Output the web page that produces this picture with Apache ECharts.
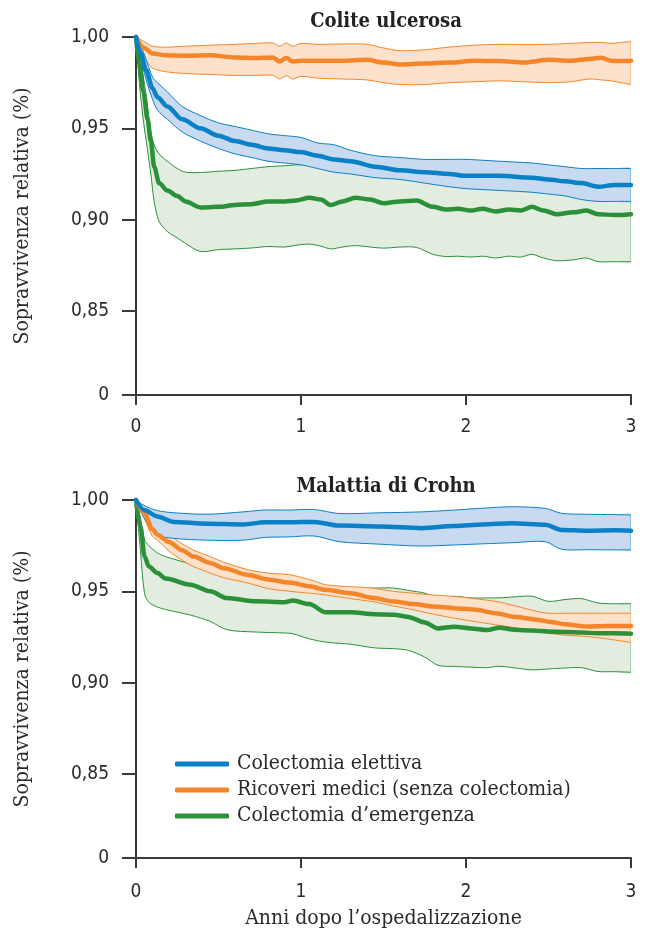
<!DOCTYPE html>
<html>
<head>
<meta charset="utf-8">
<script src="https://cdn.jsdelivr.net/npm/echarts@6/dist/echarts.min.js"></script>
<style>
html,body{margin:0;padding:0;background:#fff;}
#chart{width:649px;height:931px;}
</style>
</head>
<body>
<div id="chart"></div>
<script>
// ---------- DATA ----------
const panelTitles = ['Colite ulcerosa', 'Malattia di Crohn'];
const groupNames = ['Colectomia elettiva', 'Ricoveri medici (senza colectomia)', 'Colectomia d\u2019emergenza'];
const yAxisName = 'Sopravvivenza relativa (%)';
const xAxisName = 'Anni dopo l\u2019ospedalizzazione';
const xTickValues = [0, 1, 2, 3];
const yTickValues = [0.804, 0.85, 0.90, 0.95, 1.00];
const yTickLabels = ['0', '0,85', '0,90', '0,95', '1,00'];

// Colite ulcerosa - Colectomia elettiva
const ucElX    = [0, 0.03, 0.06, 0.1, 0.13, 0.19, 0.28, 0.39, 0.5, 0.6, 0.7, 0.8, 0.9, 1.0, 1.1, 1.2, 1.3, 1.45, 1.6, 1.75, 1.9, 2.0, 2.2, 2.4, 2.5, 2.6, 2.7, 2.8, 2.9, 3.0];
const ucElMean = [1.0, 0.991, 0.982, 0.972, 0.967, 0.962, 0.955, 0.950, 0.946, 0.943, 0.941, 0.939, 0.938, 0.937, 0.935, 0.933, 0.932, 0.929, 0.927, 0.926, 0.925, 0.924, 0.924, 0.923, 0.922, 0.921, 0.920, 0.918, 0.919, 0.919];
const ucElHi   = [1.0, 0.995, 0.988, 0.978, 0.975, 0.970, 0.962, 0.957, 0.953, 0.951, 0.949, 0.947, 0.946, 0.945, 0.942, 0.941, 0.938, 0.935, 0.934, 0.933, 0.933, 0.933, 0.932, 0.931, 0.930, 0.929, 0.928, 0.928, 0.928, 0.928];
const ucElLo   = [1.0, 0.988, 0.977, 0.966, 0.960, 0.955, 0.948, 0.943, 0.939, 0.936, 0.934, 0.932, 0.931, 0.930, 0.928, 0.926, 0.925, 0.923, 0.922, 0.920, 0.918, 0.917, 0.916, 0.915, 0.914, 0.913, 0.911, 0.910, 0.910, 0.910];

// Colite ulcerosa - Ricoveri medici
const ucMeX    = [0, 0.05, 0.1, 0.18, 0.3, 0.45, 0.6, 0.72, 0.83, 0.87, 0.91, 0.95, 1.0, 1.1, 1.25, 1.4, 1.5, 1.6, 1.75, 1.9, 2.05, 2.2, 2.35, 2.5, 2.63, 2.75, 2.82, 2.88, 2.94, 3.0];
const ucMeMean = [1.0, 0.994, 0.991, 0.990, 0.9898, 0.990, 0.9888, 0.9885, 0.9888, 0.9866, 0.9885, 0.9866, 0.987, 0.987, 0.987, 0.9875, 0.986, 0.985, 0.9855, 0.986, 0.987, 0.9868, 0.986, 0.9875, 0.987, 0.988, 0.9887, 0.987, 0.9868, 0.987];
const ucMeHi   = [1.0, 0.9975, 0.995, 0.9944, 0.995, 0.9955, 0.996, 0.9965, 0.9967, 0.995, 0.9967, 0.995, 0.9965, 0.996, 0.9962, 0.996, 0.994, 0.9925, 0.993, 0.9945, 0.9955, 0.996, 0.9958, 0.996, 0.9965, 0.997, 0.997, 0.9965, 0.997, 0.9975];
const ucMeLo   = [1.0, 0.989, 0.983, 0.981, 0.980, 0.9795, 0.979, 0.979, 0.979, 0.977, 0.9788, 0.977, 0.9785, 0.9775, 0.977, 0.9765, 0.975, 0.974, 0.974, 0.975, 0.9755, 0.976, 0.9755, 0.975, 0.9755, 0.977, 0.9765, 0.976, 0.975, 0.974];

// Colite ulcerosa - Colectomia d'emergenza
const ucEmX    = [0, 0.02, 0.045, 0.07, 0.09, 0.11, 0.14, 0.19, 0.25, 0.3, 0.39, 0.5, 0.6, 0.7, 0.8, 0.9, 0.97, 1.05, 1.12, 1.18, 1.25, 1.33, 1.42, 1.5, 1.6, 1.7, 1.8, 1.88, 1.95, 2.03, 2.1, 2.18, 2.26, 2.33, 2.4, 2.47, 2.55, 2.65, 2.73, 2.8, 2.9, 3.0];
const ucEmMean = [1.0, 0.985, 0.970, 0.955, 0.943, 0.929, 0.920, 0.916, 0.913, 0.910, 0.9067, 0.907, 0.908, 0.9085, 0.910, 0.910, 0.9105, 0.912, 0.911, 0.908, 0.910, 0.912, 0.911, 0.909, 0.910, 0.9105, 0.907, 0.9055, 0.906, 0.905, 0.906, 0.9045, 0.9055, 0.905, 0.907, 0.905, 0.903, 0.904, 0.905, 0.903, 0.9025, 0.903];
const ucEmHi   = [1.0, 0.993, 0.978, 0.962, 0.948, 0.941, 0.936, 0.932, 0.928, 0.926, 0.9258, 0.9265, 0.927, 0.928, 0.929, 0.9295, 0.930, 0.930, 0.929, 0.928, 0.928, 0.928, 0.927, 0.927, 0.927, 0.926, 0.926, 0.926, 0.925, 0.925, 0.925, 0.925, 0.925, 0.924, 0.924, 0.924, 0.924, 0.923, 0.923, 0.923, 0.923, 0.923];
const ucEmLo   = [1.0, 0.975, 0.954, 0.938, 0.925, 0.910, 0.899, 0.8935, 0.890, 0.887, 0.8826, 0.8836, 0.884, 0.8845, 0.8853, 0.885, 0.886, 0.8866, 0.8855, 0.884, 0.885, 0.8858, 0.885, 0.8844, 0.885, 0.8848, 0.881, 0.8798, 0.880, 0.8795, 0.880, 0.879, 0.880, 0.8795, 0.881, 0.879, 0.8775, 0.878, 0.879, 0.877, 0.877, 0.877];

// Malattia di Crohn - Colectomia elettiva
const cdElX    = [0, 0.05, 0.13, 0.23, 0.43, 0.65, 0.78, 0.93, 1.08, 1.23, 1.48, 1.73, 1.93, 2.1, 2.28, 2.48, 2.58, 2.73, 2.9, 3.0];
const cdElMean = [1.0, 0.9945, 0.991, 0.988, 0.987, 0.9866, 0.9878, 0.9878, 0.988, 0.986, 0.9855, 0.9846, 0.9858, 0.9866, 0.9873, 0.9864, 0.9836, 0.9832, 0.9834, 0.9832];
const cdElHi   = [1.0, 0.997, 0.9942, 0.993, 0.9922, 0.9935, 0.9945, 0.9945, 0.9948, 0.9926, 0.993, 0.9935, 0.9945, 0.9955, 0.9963, 0.9954, 0.9927, 0.9922, 0.992, 0.9918];
const cdElLo   = [1.0, 0.990, 0.9809, 0.979, 0.978, 0.978, 0.9795, 0.9798, 0.9803, 0.9772, 0.9758, 0.9748, 0.9754, 0.976, 0.9766, 0.9772, 0.973, 0.9728, 0.9727, 0.9727];

// Malattia di Crohn - Ricoveri medici
const cdMeX    = [0, 0.05, 0.1, 0.13, 0.2, 0.28, 0.35, 0.45, 0.53, 0.68, 0.8, 0.93, 1.05, 1.15, 1.3, 1.43, 1.56, 1.68, 1.8, 1.93, 2.05, 2.18, 2.3, 2.43, 2.5, 2.6, 2.73, 2.85, 3.0];
const cdMeMean = [1.0, 0.993, 0.984, 0.981, 0.977, 0.9725, 0.969, 0.9655, 0.9627, 0.959, 0.9565, 0.9548, 0.9528, 0.9508, 0.949, 0.9465, 0.9444, 0.943, 0.9417, 0.9408, 0.940, 0.938, 0.936, 0.9345, 0.9334, 0.932, 0.9307, 0.931, 0.931];
const cdMeHi   = [1.0, 0.996, 0.989, 0.986, 0.981, 0.976, 0.9725, 0.969, 0.966, 0.9618, 0.960, 0.9591, 0.9565, 0.9536, 0.9525, 0.9518, 0.950, 0.949, 0.948, 0.9472, 0.946, 0.9445, 0.942, 0.939, 0.938, 0.938, 0.938, 0.938, 0.938];
const cdMeLo   = [1.0, 0.990, 0.980, 0.9781, 0.972, 0.967, 0.9635, 0.960, 0.9575, 0.9545, 0.9515, 0.950, 0.949, 0.948, 0.946, 0.9444, 0.942, 0.9399, 0.9375, 0.9353, 0.9335, 0.9317, 0.930, 0.928, 0.927, 0.926, 0.9253, 0.924, 0.922];

// Malattia di Crohn - Colectomia d'emergenza
const cdEmX    = [0, 0.027, 0.052, 0.078, 0.13, 0.18, 0.33, 0.45, 0.55, 0.73, 0.9, 0.95, 1.05, 1.15, 1.3, 1.45, 1.56, 1.65, 1.75, 1.83, 1.93, 2.03, 2.13, 2.2, 2.3, 2.4, 2.5, 2.6, 2.7, 2.8, 2.9, 3.0];
const cdEmMean = [1.0, 0.9854, 0.969, 0.9636, 0.960, 0.957, 0.9536, 0.950, 0.9463, 0.9445, 0.944, 0.945, 0.943, 0.9385, 0.9385, 0.9375, 0.9372, 0.936, 0.933, 0.9297, 0.9306, 0.9297, 0.9288, 0.930, 0.929, 0.9285, 0.928, 0.9278, 0.9275, 0.927, 0.927, 0.9268];
const cdEmHi   = [1.0, 0.990, 0.9781, 0.975, 0.971, 0.969, 0.965, 0.962, 0.960, 0.9555, 0.9535, 0.953, 0.952, 0.951, 0.9515, 0.9518, 0.9518, 0.9505, 0.949, 0.9464, 0.9473, 0.9464, 0.9464, 0.9464, 0.947, 0.9473, 0.9445, 0.9455, 0.946, 0.9436, 0.9432, 0.9432];
const cdEmLo   = [1.0, 0.972, 0.9487, 0.944, 0.9414, 0.940, 0.937, 0.9335, 0.929, 0.9277, 0.9272, 0.9268, 0.924, 0.9222, 0.921, 0.919, 0.9186, 0.9177, 0.914, 0.9095, 0.9089, 0.9085, 0.9082, 0.909, 0.908, 0.907, 0.9075, 0.908, 0.9082, 0.9061, 0.906, 0.9057];

// ---------- STYLE ----------
const SANS = '"Liberation Sans Narrow","DejaVu Sans Condensed","Roboto Condensed",sans-serif';
const SERIF = '"DejaVu Serif Condensed","Liberation Serif",serif';
const AXIS_COLOR = '#3a3a3a';
const TEXT_COLOR = '#2b2b2b';
const colors = { el: '#0a80c6', me: '#f4862a', em: '#2a9139' };
const fills  = { el: '#c8daf0', me: '#fde1ca', em: '#e2ede0' };
const SMOOTH = 0.3;

const pairs = (xs, ys) => xs.map((x, i) => [x, ys[i]]);

// confidence band: filled polygon between lo and hi, with thin edges, positioned by api.coord
function bandSeries(p, key, name, xs, lo, hi) {
  return {
    type: 'custom', name: name + ' IC' + p, xAxisIndex: p, yAxisIndex: p, silent: true, clip: true,
    data: xs.map((x, i) => [x, lo[i], hi[i]]),
    encode: { x: 0, y: [1, 2] },
    renderItem: (params, api) => {
      if (params.dataIndex !== 0) return null;
      const n = xs.length;
      const top = [], bot = [];
      for (let i = 0; i < n; i++) {
        top.push(api.coord([xs[i], hi[i]]));
        bot.push(api.coord([xs[i], lo[i]]));
      }
      const c0 = api.coord([xs[0], 1.0]);
      const c1 = api.coord([xs[n - 1], yTickValues[0]]);
      const constraint = [[c0[0], c0[1]], [c1[0], c1[1]]];
      return {
        type: 'group',
        children: [
          { type: 'polygon', shape: { points: top.concat(bot.slice().reverse()), smooth: SMOOTH, smoothConstraint: constraint },
            style: { fill: fills[key], stroke: null } },
          { type: 'polyline', shape: { points: top, smooth: SMOOTH, smoothConstraint: constraint },
            style: { stroke: colors[key], lineWidth: 1, fill: null } },
          { type: 'polyline', shape: { points: bot, smooth: SMOOTH, smoothConstraint: constraint },
            style: { stroke: colors[key], lineWidth: 1, fill: null } },
          { type: 'line', shape: { x1: top[n - 1][0], y1: top[n - 1][1], x2: bot[n - 1][0], y2: bot[n - 1][1] },
            style: { stroke: colors[key], lineWidth: 1, opacity: 0.6 } }
        ]
      };
    }
  };
}

function meanSeries(p, key, name, xs, mean) {
  return {
    type: 'line', name, xAxisIndex: p, yAxisIndex: p, data: pairs(xs, mean),
    showSymbol: false, symbol: 'none', smooth: SMOOTH, smoothMonotone: 'x', clip: false, silent: true,
    lineStyle: { color: colors[key], width: 4.5, cap: 'round', join: 'round' },
    itemStyle: { color: colors[key] }
  };
}

const series = [
  bandSeries(0, 'em', groupNames[2], ucEmX, ucEmLo, ucEmHi), meanSeries(0, 'em', groupNames[2], ucEmX, ucEmMean),
  bandSeries(0, 'me', groupNames[1], ucMeX, ucMeLo, ucMeHi), meanSeries(0, 'me', groupNames[1], ucMeX, ucMeMean),
  bandSeries(0, 'el', groupNames[0], ucElX, ucElLo, ucElHi), meanSeries(0, 'el', groupNames[0], ucElX, ucElMean),
  bandSeries(1, 'em', groupNames[2], cdEmX, cdEmLo, cdEmHi), meanSeries(1, 'em', groupNames[2], cdEmX, cdEmMean),
  bandSeries(1, 'me', groupNames[1], cdMeX, cdMeLo, cdMeHi), meanSeries(1, 'me', groupNames[1], cdMeX, cdMeMean),
  bandSeries(1, 'el', groupNames[0], cdElX, cdElLo, cdElHi), meanSeries(1, 'el', groupNames[0], cdElX, cdElMean)
];

const gridTops = [37, 500];
const grids = gridTops.map(t => ({ left: 136, width: 495, top: t, height: 358, containLabel: false }));

const xAxes = [0, 1].map(i => ({
  type: 'value', gridIndex: i, min: 0, max: 3,
  name: i === 1 ? xAxisName : '', nameLocation: 'middle', nameGap: 50,
  nameTextStyle: { fontFamily: SERIF, fontSize: 21, color: TEXT_COLOR },
  axisLine: { show: true, onZero: false, lineStyle: { color: AXIS_COLOR, width: 2 } },
  axisTick: { show: true, length: 10, customValues: xTickValues, lineStyle: { color: AXIS_COLOR, width: 2 } },
  axisLabel: { show: true, customValues: xTickValues, margin: i === 1 ? 25 : 23, fontFamily: SANS, fontSize: 19, color: TEXT_COLOR,
               formatter: v => String(v) },
  splitLine: { show: false }
}));

const yAxes = [0, 1].map(i => ({
  type: 'value', gridIndex: i, min: yTickValues[0], max: 1.0,
  name: yAxisName, nameLocation: 'middle', nameGap: 103, nameRotate: 90,
  nameTextStyle: { fontFamily: SERIF, fontSize: 21, color: TEXT_COLOR },
  axisLine: { show: true, onZero: false, lineStyle: { color: AXIS_COLOR, width: 2 } },
  axisTick: { show: true, length: 14, customValues: yTickValues, lineStyle: { color: AXIS_COLOR, width: 2 } },
  axisLabel: { show: true, customValues: yTickValues, margin: 27, fontFamily: SANS, fontSize: 19, color: TEXT_COLOR,
               formatter: v => { const k = yTickValues.findIndex(t => Math.abs(t - v) < 1e-6); return k >= 0 ? yTickLabels[k] : ''; } },
  splitLine: { show: false }
}));

const option = {
  animation: false,
  backgroundColor: '#ffffff',
  grid: grids,
  xAxis: xAxes,
  yAxis: yAxes,
  legend: {
    data: groupNames, orient: 'vertical', left: 170, top: 746,
    icon: 'roundRect', itemWidth: 54, itemHeight: 5, itemGap: 0, selectedMode: false,
    textStyle: { fontFamily: SERIF, fontSize: 21, color: TEXT_COLOR, lineHeight: 26, padding: [0, 0, 0, 3] }
  },
  graphic: [
    { type: 'text', x: 386, y: 22, silent: true,
      style: { text: panelTitles[0], font: 'bold 20px ' + SERIF, fill: '#222', align: 'center', verticalAlign: 'middle' } },
    { type: 'text', x: 386, y: 487, silent: true,
      style: { text: panelTitles[1], font: 'bold 20px ' + SERIF, fill: '#222', align: 'center', verticalAlign: 'middle' } }
  ],
  series
};

const chart = echarts.init(document.getElementById('chart'), null, { renderer: 'canvas' });
chart.setOption(option);
</script>
</body>
</html>
